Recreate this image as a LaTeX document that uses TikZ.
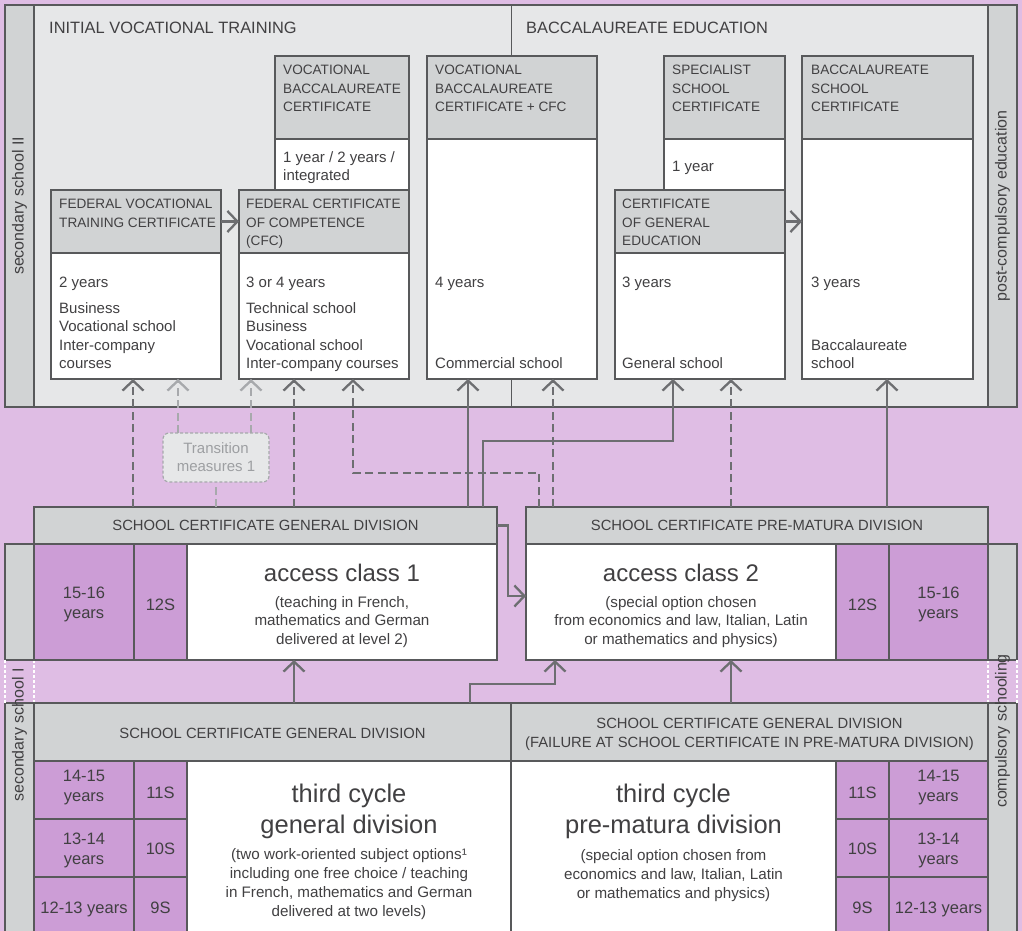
\documentclass[tikz,border=0pt]{standalone}
\usepackage{fontspec}
\setmainfont{Liberation Sans}
\usetikzlibrary{arrows.meta}
\definecolor{bgc}{HTML}{DFBDE4}
\definecolor{pgray}{HTML}{E6E7E8}
\definecolor{hgray}{HTML}{D1D3D4}
\definecolor{bord}{HTML}{58595B}
\definecolor{cgray}{HTML}{6D6E71}
\definecolor{lgray}{HTML}{A7A9AC}
\definecolor{agep}{HTML}{CC9DD6}
\definecolor{txt}{HTML}{414042}
\definecolor{ttxt}{HTML}{9D9FA2}
\newcommand\fsz[2]{\fontsize{#1}{#2}\selectfont}
\newcommand\rb[6]{\node[#2,anchor=north west,inner sep=0pt,outer sep=0pt,minimum width={#5-#3},minimum height={#6-#4}] (#1) at (#3,#4) {};}
\begin{document}
\begin{tikzpicture}[x=1pt,y=-1pt,
 box/.style={draw=bord,line width=1.6pt},
 hdr/.style={box,fill=hgray},
 body/.style={box,fill=white},
 agec/.style={box,fill=agep},
 stripbox/.style={box,fill=hgray},
 ttl/.style={text=txt,inner sep=0pt,anchor=north west,font=\fsz{16.4}{20}},
 hf/.style={text=txt,inner sep=0pt,anchor=north west,align=left,font=\fsz{13.6}{18.5}},
 bf/.style={text=txt,inner sep=0pt,anchor=north west,align=left,font=\fsz{15}{18.5}},
 bh/.style={text=txt,inner sep=0pt,anchor=north,align=center,font=\fsz{14.8}{19}},
 big/.style={text=txt,inner sep=0pt,anchor=north,align=center,font=\fsz{24}{28}},
 bigg/.style={text=txt,inner sep=0pt,anchor=north,align=center,font=\fsz{25.5}{31}},
 sm/.style={text=txt,inner sep=0pt,anchor=north,align=center,font=\fsz{15.2}{18.5}},
 smm/.style={text=txt,inner sep=0pt,anchor=north,align=center,font=\fsz{15.2}{19}},
 agt/.style={text=txt,inner sep=0pt,anchor=north,align=center,font=\fsz{16.5}{20}},
 side/.style={text=txt,inner sep=0pt,rotate=90,font=\fsz{16}{19}},
 conn/.style={draw=cgray,line width=2.3pt,-{Straight Barb[length=10pt,width=21pt]}},
 dk/.style={conn,dash pattern=on 8pt off 4.5pt},
 lt/.style={conn,draw=lgray,dash pattern=on 8pt off 4.5pt},
 ltn/.style={draw=lgray,line width=2.3pt,dash pattern=on 8pt off 4.5pt}
]
\useasboundingbox (0,0) rectangle (1022,931);
\clip (0,0) rectangle (1022,931);
\fill[bgc] (0,0) rectangle (1022,931);

% ---------- top panel ----------
\rb{panel}{box,fill=pgray}{5}{5}{1017}{407}
\rb{stripTL}{stripbox}{5}{5}{34}{407}
\rb{stripTR}{stripbox}{988}{5}{1017}{407}
\coordinate (v511) at (511,0);
\draw[draw=bord,line width=1pt] (v511 |- panel.north) -- (v511 |- panel.south);

\node[ttl] (ivt) at (49,21.5) {INITIAL VOCATIONAL TRAINING};
\node[ttl] (bae) at (526,21.5) {BACCALAUREATE EDUCATION};

\rb{vbch}{hdr}{275}{56}{409}{139}
\rb{vbcb}{body}{275}{139}{409}{190}
\rb{fvtch}{hdr}{51}{190}{221}{253}
\rb{fvtcb}{body}{51}{253}{221}{379}
\rb{cfch}{hdr}{239}{190}{409}{253}
\rb{cfcb}{body}{239}{253}{409}{379}
\rb{vbcch}{hdr}{427}{56}{597}{139}
\rb{vbccb}{body}{427}{139}{597}{379}
\rb{ssch}{hdr}{664}{56}{785}{139}
\rb{sscb}{body}{664}{139}{785}{190}
\rb{cgeh}{hdr}{615}{190}{785}{253}
\rb{cgeb}{body}{615}{253}{785}{379}
\rb{bsch}{hdr}{802}{56}{973}{139}
\rb{bscb}{body}{802}{139}{973}{379}

\node[hf] (vbcht) at (283,65) {VOCATIONAL\\BACCALAUREATE\\CERTIFICATE};
\node[hf] (vbccht) at (435,65) {VOCATIONAL\\BACCALAUREATE\\CERTIFICATE + CFC};
\node[hf] (sscht) at (672,65) {SPECIALIST\\SCHOOL\\CERTIFICATE};
\node[hf] (bscht) at (811,65) {BACCALAUREATE\\SCHOOL\\CERTIFICATE};
\node[hf] (fvtcht) at (59,199) {FEDERAL VOCATIONAL\\TRAINING CERTIFICATE};
\node[hf] (cfcht) at (246,199) {FEDERAL CERTIFICATE\\OF COMPETENCE\\(CFC)};
\node[hf] (cgeht) at (622,199) {CERTIFICATE\\OF GENERAL\\EDUCATION};

\node[bf] (vbcbt) at (283,151) {1 year / 2 years /\\integrated};
\node[bf] (fvtcy) at (59,277) {2 years};
\node[bf] (fvtcs) at (59,302) {Business\\Vocational school\\Inter-company\\courses};
\node[bf] (cfcy) at (246,277) {3 or 4 years};
\node[bf] (cfcs) at (246,302) {Technical school\\Business\\Vocational school\\Inter-company courses};
\node[bf] (vbccy) at (435,277) {4 years};
\node[bf] (vbccs) at (435,357.5) {Commercial school};
\node[bf] (ssct) at (672,161) {1 year};
\node[bf] (cgey) at (622,277) {3 years};
\node[bf] (cges) at (622,357.5) {General school};
\node[bf] (bscy) at (811,277) {3 years};
\node[bf] (bscs) at (811,339) {Baccalaureate\\school};

\draw[conn] (fvtch.east) -- (cfch.west);
\draw[conn] (cgeh.east) -- (cgeh.east -| bscb.west);

\node[side] (lab1) at (19.5,206) {secondary school II};
\node[side] (lab2) at (1002.5,206) {post-compulsory education};

% ---------- bottom ----------
\rb{sL1}{stripbox}{5}{544}{34}{660}
\rb{sL2}{stripbox}{5}{703}{34}{940}
\rb{sR1}{stripbox}{988}{544}{1017}{660}
\rb{sR2}{stripbox}{988}{703}{1017}{940}
\draw[white,line width=1.2pt,dash pattern=on 3pt off 2pt] (sL1.south west) -- (sL2.north west);
\draw[white,line width=1.2pt,dash pattern=on 3pt off 2pt] (sL1.south east) -- (sL2.north east);
\draw[white,line width=1.2pt,dash pattern=on 3pt off 2pt] (sR1.south west) -- (sR2.north west);
\draw[white,line width=1.2pt,dash pattern=on 3pt off 2pt] (sR1.south east) -- (sR2.north east);

\rb{ac1h}{hdr}{34}{507}{497}{544}
\rb{ac1a}{agec}{34}{544}{134}{660}
\rb{ac1c}{agec}{134}{544}{187}{660}
\rb{ac1b}{body}{187}{544}{497}{660}
\rb{ac2h}{hdr}{526}{507}{988}{544}
\rb{ac2b}{body}{526}{544}{836}{660}
\rb{ac2c}{agec}{836}{544}{889}{660}
\rb{ac2a}{agec}{889}{544}{988}{660}

\rb{tc1h}{hdr}{34}{703}{511}{761}
\rb{tc2h}{hdr}{511}{703}{988}{761}
\rb{tc1a1}{agec}{34}{761}{134}{819}
\rb{tc1a2}{agec}{34}{819}{134}{877}
\rb{tc1a3}{agec}{34}{877}{134}{940}
\rb{tc1c1}{agec}{134}{761}{187}{819}
\rb{tc1c2}{agec}{134}{819}{187}{877}
\rb{tc1c3}{agec}{134}{877}{187}{940}
\rb{tc1b}{body}{187}{761}{511}{940}
\rb{tc2b}{body}{511}{761}{836}{940}
\rb{tc2c1}{agec}{836}{761}{889}{819}
\rb{tc2c2}{agec}{836}{819}{889}{877}
\rb{tc2c3}{agec}{836}{877}{889}{940}
\rb{tc2a1}{agec}{889}{761}{988}{819}
\rb{tc2a2}{agec}{889}{819}{988}{877}
\rb{tc2a3}{agec}{889}{877}{988}{940}

\node[bh] (ac1ht) at (265.5,520) {SCHOOL CERTIFICATE GENERAL DIVISION};
\node[bh] (ac2ht) at (757,520) {SCHOOL CERTIFICATE PRE-MATURA DIVISION};
\node[bh] (tc1ht) at (272.5,728) {SCHOOL CERTIFICATE GENERAL DIVISION};
\node[bh] (tc2ht) at (749.5,718) {SCHOOL CERTIFICATE GENERAL DIVISION\\(FAILURE AT SCHOOL CERTIFICATE IN PRE-MATURA DIVISION)};

\node[big] (ac1t) at (342,564) {access class 1};
\node[sm] (ac1s) at (342,596) {(teaching in French,\\mathematics and German\\delivered at level 2)};
\node[big] (ac2t) at (681,564) {access class 2};
\node[sm] (ac2s) at (681,596) {(special option chosen\\from economics and law, Italian, Latin\\or mathematics and physics)};

\node[bigg] (tc1t) at (349,783.5) {third cycle\\general division};
\node[smm] (tc1s) at (349,848) {(two work-oriented subject options¹\\including one free choice / teaching\\in French, mathematics and German\\delivered at two levels)};
\node[bigg] (tc2t) at (673.5,783.5) {third cycle\\pre-matura division};
\node[smm] (tc2s) at (673.5,849) {(special option chosen from\\economics and law, Italian, Latin\\or mathematics and physics)};

\node[agt] (ac1at) at (84,587) {15-16\\years};
\node[agt] (ac1ct) at (160.5,599) {12S};
\node[agt] (ac2ct) at (862.5,599) {12S};
\node[agt] (ac2at) at (938.5,587) {15-16\\years};

\node[agt] (tc1a1t) at (84,770) {14-15\\years};
\node[agt] (tc1a2t) at (84,833) {13-14\\years};
\node[agt] (tc1a3t) at (84,902) {12-13 years};
\node[agt] (tc1c1t) at (160.5,786.5) {11S};
\node[agt] (tc1c2t) at (160.5,843) {10S};
\node[agt] (tc1c3t) at (160.5,902) {9S};
\node[agt] (tc2c1t) at (862.5,786.5) {11S};
\node[agt] (tc2c2t) at (862.5,843) {10S};
\node[agt] (tc2c3t) at (862.5,902) {9S};
\node[agt] (tc2a1t) at (938.5,770) {14-15\\years};
\node[agt] (tc2a2t) at (938.5,833) {13-14\\years};
\node[agt] (tc2a3t) at (938.5,902) {12-13 years};

\node[side] (lab3) at (19.5,735) {secondary school I};
\node[side] (lab4) at (1002.5,731) {compulsory schooling};

% transition measures
\node[draw=lgray,dash pattern=on 3pt off 2pt,line width=1.2pt,fill=pgray,rounded corners=6pt,anchor=north west,inner sep=0pt,outer sep=0pt,minimum width=106,minimum height=49] (trans) at (163,433) {};
\node[text=ttxt,align=center,inner sep=0pt,font=\fsz{15}{18}] (transt) at (216,457.5) {Transition\\measures 1};

% ---------- connectors ----------
\coordinate (v133) at (133,0);
\coordinate (v178) at (178,0);
\coordinate (v216) at (216,0);
\coordinate (v251) at (251,0);
\coordinate (v294) at (294,0);
\coordinate (v353) at (353,0);
\coordinate (v468) at (468,0);
\coordinate (v470) at (470,0);
\coordinate (v483) at (483,0);
\coordinate (v508) at (508,0);
\coordinate (v539) at (539,0);
\coordinate (v553) at (553,0);
\coordinate (v555) at (555,0);
\coordinate (v673) at (673,0);
\coordinate (v731) at (731,0);
\coordinate (v887) at (887,0);
\coordinate (h441) at (0,441);
\coordinate (h473) at (0,473);
\coordinate (h596) at (0,596);
\coordinate (h684) at (0,684);

\draw[dk] (v133 |- ac1h.north) -- (v133 |- fvtcb.south);
\draw[lt] (v178 |- trans.north) -- (v178 |- fvtcb.south);
\draw[lt] (v251 |- trans.north) -- (v251 |- cfcb.south);
\draw[ltn] (v216 |- ac1h.north) -- (v216 |- trans.south);
\draw[dk] (v294 |- ac1h.north) -- (v294 |- cfcb.south);
\draw[dk] (v539 |- ac2h.north) -- (v539 |- h473) -- (v353 |- h473) -- (v353 |- cfcb.south);
\draw[conn] (v468 |- ac1h.north) -- (v468 |- vbccb.south);
\draw[conn] (v483 |- ac1h.north) -- (v483 |- h441) -- (v673 |- h441) -- (v673 |- cgeb.south);
\draw[dk] (v553 |- ac2h.north) -- (v553 |- vbccb.south);
\draw[dk] (v731 |- ac2h.north) -- (v731 |- cgeb.south);
\draw[conn] (v887 |- ac2h.north) -- (v887 |- bscb.south);
\draw[conn] (ac1h.east) -- (v508 |- ac1h.east) -- (v508 |- h596) -- (ac2b.west |- h596);
\draw[conn] (v294 |- tc1h.north) -- (v294 |- ac1b.south);
\draw[conn] (v470 |- tc1h.north) -- (v470 |- h684) -- (v555 |- h684) -- (v555 |- ac2b.south);
\draw[conn] (v731 |- tc2h.north) -- (v731 |- ac2b.south);
\end{tikzpicture}
\end{document}
